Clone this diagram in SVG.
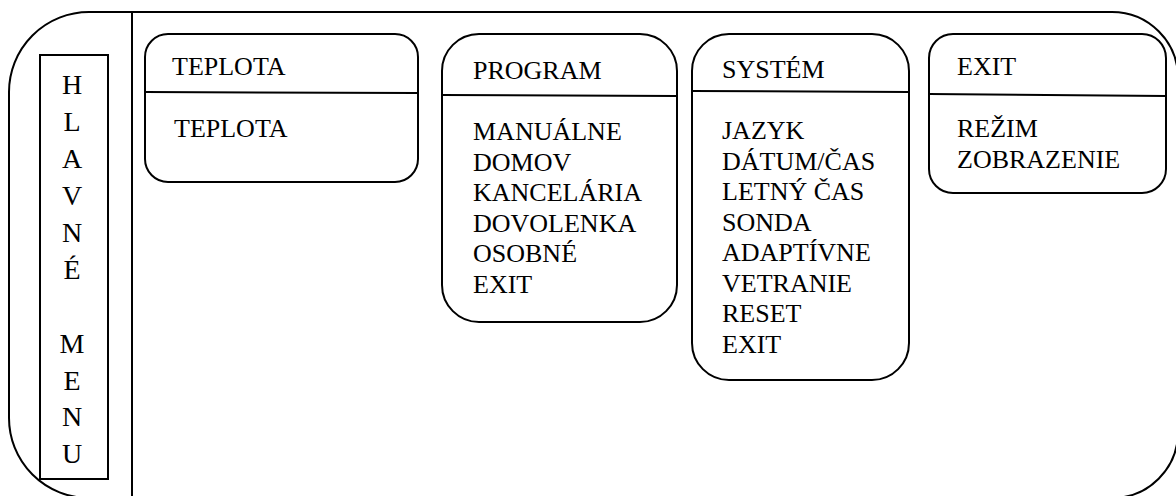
<svg xmlns="http://www.w3.org/2000/svg" width="1176" height="496" viewBox="0 0 1176 496">
<style>
.ln{fill:none;stroke:#000;stroke-width:2}
.bx{fill:#fff;stroke:#000;stroke-width:2}
.t{font-family:"Liberation Serif",Tinos,"Times New Roman",Times,"Noto Serif","DejaVu Serif",serif;font-size:26px;fill:#000}
.vt{font-family:"Liberation Serif",Tinos,"Times New Roman",Times,"Noto Serif","DejaVu Serif",serif;font-size:28px;fill:#000;text-anchor:middle}
</style>
<rect width="1176" height="496" fill="#fff"/>
<g id="frame">
<path class="ln" d="M89,12 H1112 A66,66 0 0 1 1178,78 V432 A66,66 0 0 1 1112,498 H89 A80,80 0 0 1 9,418 V92 A80,80 0 0 1 89,12 Z"/>
<line class="ln" x1="132" y1="12" x2="132" y2="500"/>
</g>
<g id="hlavne-menu">
<rect class="bx" x="40" y="55" width="68" height="424"/>
<text class="vt"><tspan x="72" y="94">H</tspan><tspan x="72" y="131">L</tspan><tspan x="72" y="168">A</tspan><tspan x="72" y="205">V</tspan><tspan x="72" y="242">N</tspan><tspan x="72" y="278.5">É</tspan><tspan x="72" y="352.5">M</tspan><tspan x="72" y="389.5">E</tspan><tspan x="72" y="426">N</tspan><tspan x="72" y="463">U</tspan></text>
</g>
<g id="teplota">
<rect class="bx" x="145" y="34" width="273" height="148" rx="23"/>
<line class="ln" x1="145" y1="92" x2="418" y2="93"/>
<text class="t" x="172" y="75">TEPLOTA</text>
<text class="t" x="174" y="137">TEPLOTA</text>
</g>
<g id="program">
<rect class="bx" x="442" y="34" width="235" height="288" rx="37"/>
<line class="ln" x1="442" y1="95" x2="677" y2="96"/>
<text class="t" x="473" y="79">PROGRAM</text>
<text class="t" x="473" y="140">MANUÁLNE</text>
<text class="t" x="473" y="170.5">DOMOV</text>
<text class="t" x="473" y="201">KANCELÁRIA</text>
<text class="t" x="473" y="231.5">DOVOLENKA</text>
<text class="t" x="473" y="262">OSOBNÉ</text>
<text class="t" x="473" y="292.5">EXIT</text>
</g>
<g id="system">
<rect class="bx" x="692" y="34" width="217" height="346" rx="37"/>
<line class="ln" x1="692" y1="91" x2="909" y2="92"/>
<text class="t" x="722" y="78">SYSTÉM</text>
<text class="t" x="722" y="139">JAZYK</text>
<text class="t" x="722" y="169.5">DÁTUM/ČAS</text>
<text class="t" x="722" y="200">LETNÝ ČAS</text>
<text class="t" x="722" y="230.5">SONDA</text>
<text class="t" x="722" y="261">ADAPTÍVNE</text>
<text class="t" x="722" y="291.5">VETRANIE</text>
<text class="t" x="722" y="322">RESET</text>
<text class="t" x="722" y="352.5">EXIT</text>
</g>
<g id="exit">
<rect class="bx" x="929" y="34" width="237" height="159" rx="24"/>
<line class="ln" x1="929" y1="94" x2="1166" y2="96"/>
<text class="t" x="957" y="75">EXIT</text>
<text class="t" x="957" y="137">REŽIM</text>
<text class="t" x="957" y="168">ZOBRAZENIE</text>
</g>
<g id="connectors"></g>
</svg>
